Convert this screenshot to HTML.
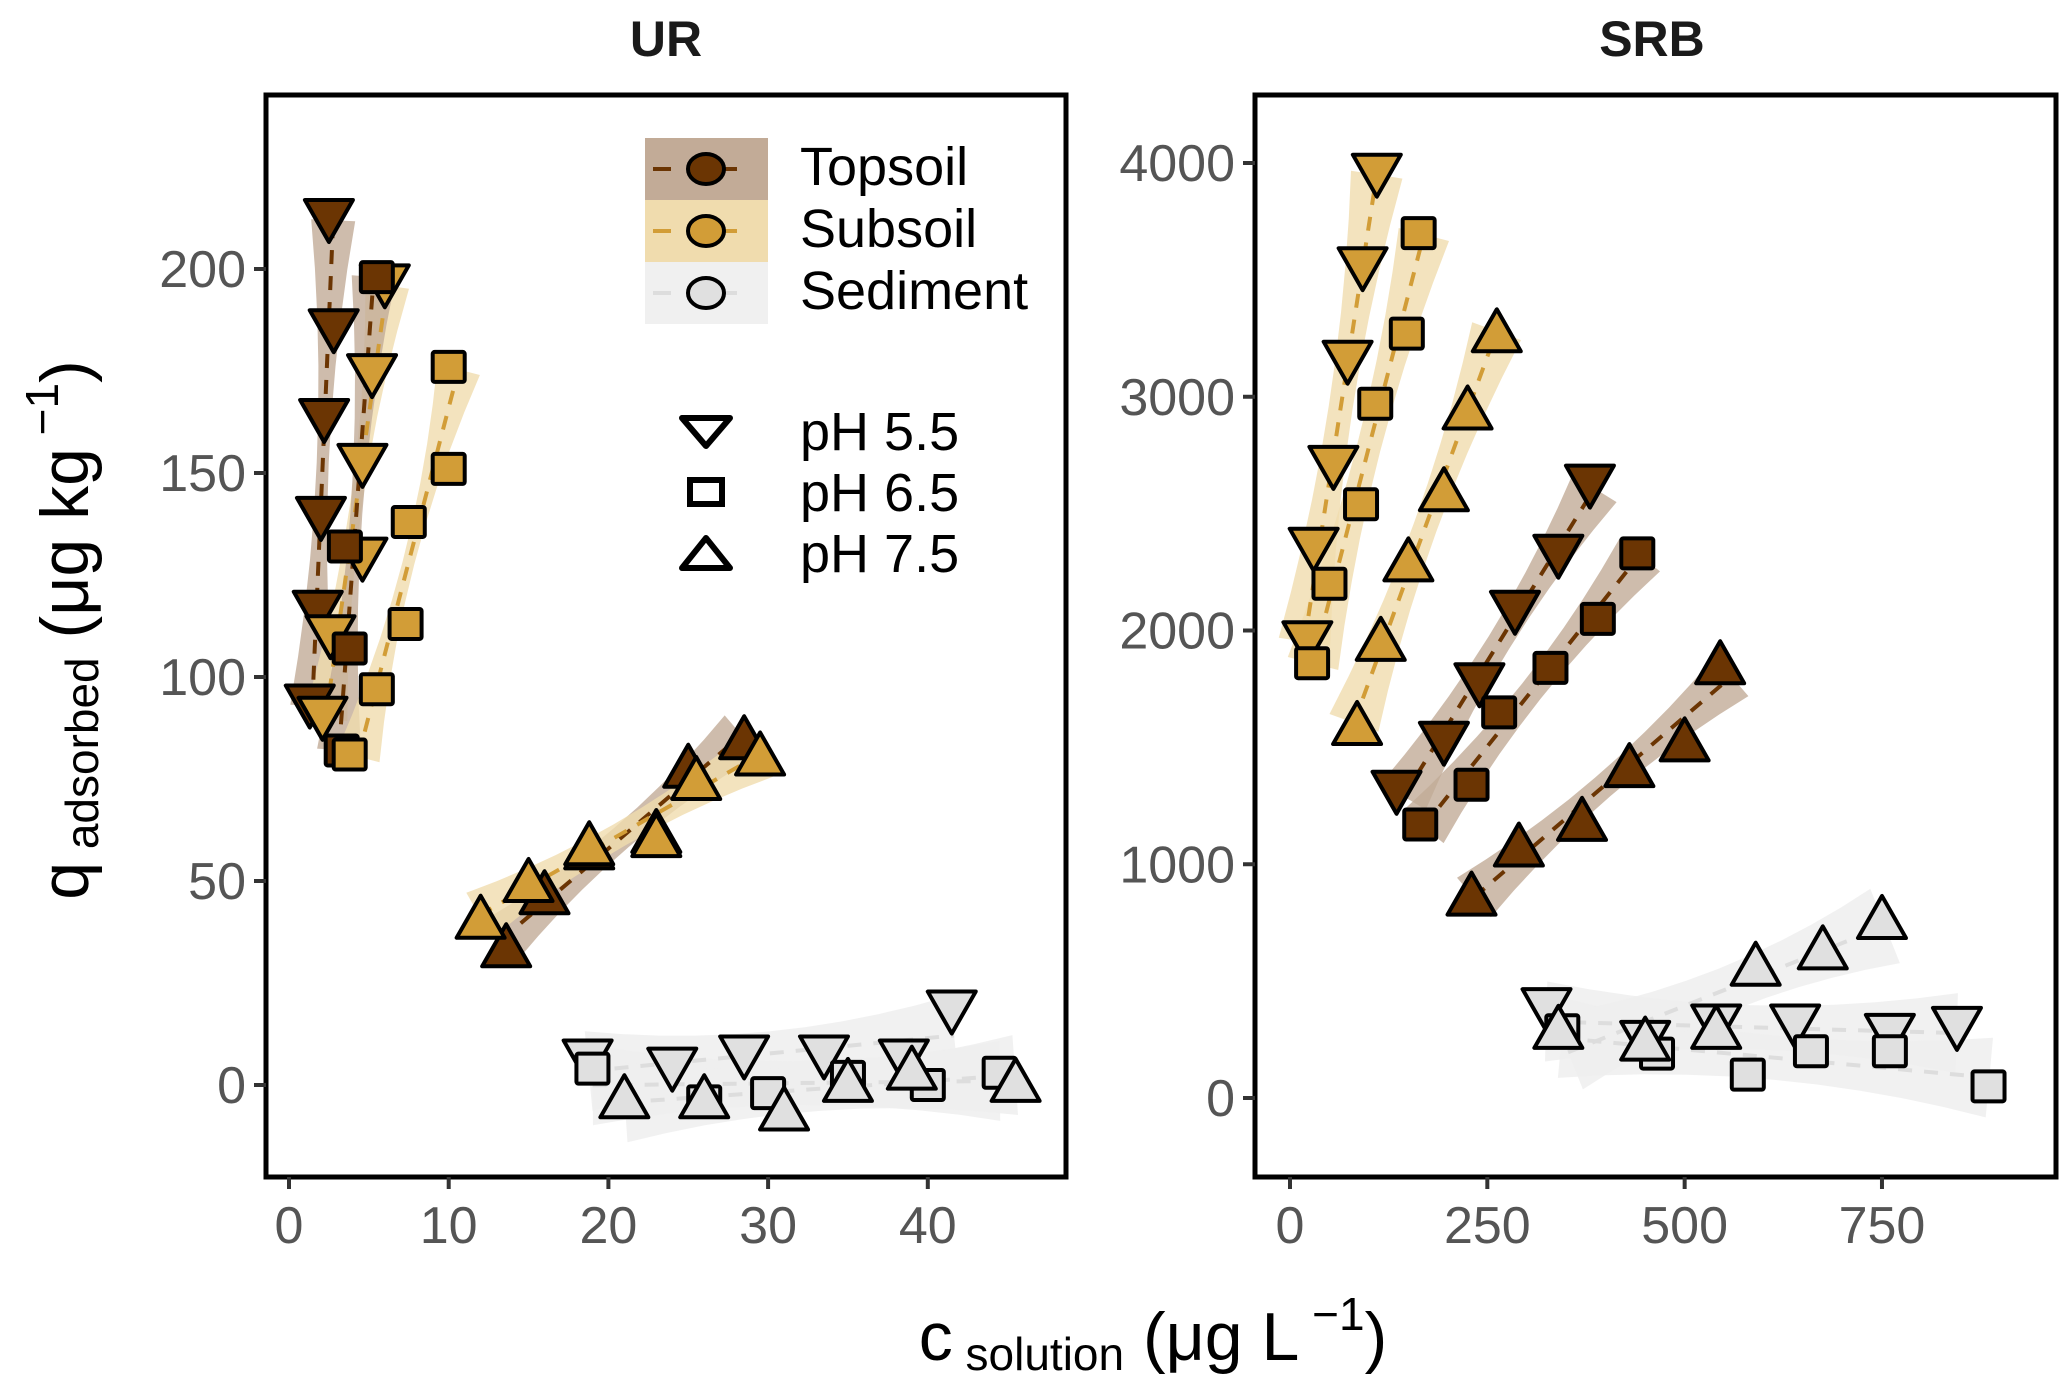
<!DOCTYPE html>
<html><head><meta charset="utf-8">
<style>
html,body{margin:0;padding:0;background:#fff;}
svg{display:block;font-family:"Liberation Sans",Arial,sans-serif;}
</style></head>
<body>
<svg id="chart" width="2067" height="1385" viewBox="0 0 2067 1385" xmlns="http://www.w3.org/2000/svg">
<g id="layer-ribbons"></g>
<g id="layer-lines"></g>
<g id="layer-points"></g>
<g id="layer-axes"></g>
</svg>
<script>
// ---- data (c solution, q adsorbed) ----
const urTickX = [0,10,20,30,40];
const urTickY = [0,50,100,150,200];
const srbTickX = [0,250,500,750];
const srbTickY = [0,1000,2000,3000,4000];

const ur_top_55_c = [2.5,2.8,2.2,2.0,1.8,1.3];
const ur_top_55_q = [212,185,163,139,116,93];
const ur_sub_55_c = [6.0,5.2,4.6,4.6,2.6,2.1];
const ur_sub_55_q = [196,174,152,129,110,90];
const ur_top_65_c = [5.5,3.5,3.8,3.3];
const ur_top_65_q = [198,132,107,82];
const ur_sub_65_c = [10.0,10.0,7.5,7.3,5.5,3.8];
const ur_sub_65_q = [176,151,138,113,97,81];
const ur_top_75_c = [13.6,16.0,18.8,25.0,28.5,23.0];
const ur_top_75_q = [34,47,58,78,85,62];
const ur_sub_75_c = [12.0,15.0,18.8,25.5,29.5,23.0];
const ur_sub_75_q = [41,50,59,75,81,61];
const ur_sed_55_c = [18.7,24.0,28.5,33.5,38.5,41.5];
const ur_sed_55_q = [6,4,7,7,6,18];
const ur_sed_65_c = [19.0,26.0,30.0,35.0,40.0,44.5];
const ur_sed_65_q = [4,-4,-2,2,0,3];
const ur_sed_75_c = [21.0,26.0,31.0,35.0,39.0,45.5];
const ur_sed_75_q = [-3,-3,-6,1,4,1];

const srb_sub_55_c = [22,30,55,73,92,110];
const srb_sub_55_q = [1950,2350,2700,3150,3550,3950];
const srb_sub_65_c = [28,50,90,108,148,163];
const srb_sub_65_q = [1860,2200,2540,2970,3270,3700];
const srb_sub_75_c = [85,115,150,195,225,262];
const srb_sub_75_q = [1600,1960,2300,2600,2950,3280];
const srb_top_55_c = [135,195,240,285,340,380];
const srb_top_55_q = [1310,1520,1770,2080,2320,2620];
const srb_top_65_c = [165,230,265,330,390,440];
const srb_top_65_q = [1170,1340,1650,1840,2050,2330];
const srb_top_75_c = [230,290,370,430,500,545];
const srb_top_75_q = [870,1080,1190,1420,1530,1860];
const srb_sed_55_c = [325,450,540,640,760,845];
const srb_sed_55_q = [380,240,310,310,270,300];
const srb_sed_65_c = [345,465,580,660,760,885];
const srb_sed_65_q = [290,190,100,200,200,50];
const srb_sed_75_c = [340,450,540,590,675,750];
const srb_sed_75_q = [300,250,300,570,640,770];

// ---- scales ----
const panels = {
  ur: {x0:266,x1:1066,y0:95,y1:1177, sx:v=>289+v*15.97, sy:v=>1085-v*4.08},
  srb:{x0:1255,x1:2056,y0:95,y1:1177, sx:v=>1290+v*0.7893, sy:v=>1098-v*0.23375}
};
const fills = {top:'#6b3503', sub:'#d29d37', sed:'#e0e0e0'};
const ribbonCol = {top:'#c2ab97', sub:'#f0dcae', sed:'#efefef'};
const lineCol = {top:'#6b3503', sub:'#d29d37', sed:'#dddddd'};
const NS='http://www.w3.org/2000/svg';
const L={rib:document.getElementById('layer-ribbons'),lin:document.getElementById('layer-lines'),pts:document.getElementById('layer-points'),ax:document.getElementById('layer-axes')};
function mk(tag,attrs,parent){const e=document.createElementNS(NS,tag);for(const k in attrs)e.setAttribute(k,attrs[k]);parent.appendChild(e);return e;}

const series = [
 ['ur','top','55',ur_top_55_c,ur_top_55_q],['ur','sub','55',ur_sub_55_c,ur_sub_55_q],
 ['ur','top','65',ur_top_65_c,ur_top_65_q],['ur','sub','65',ur_sub_65_c,ur_sub_65_q],
 ['ur','top','75',ur_top_75_c,ur_top_75_q],['ur','sub','75',ur_sub_75_c,ur_sub_75_q],
 ['ur','sed','55',ur_sed_55_c,ur_sed_55_q],['ur','sed','65',ur_sed_65_c,ur_sed_65_q],['ur','sed','75',ur_sed_75_c,ur_sed_75_q],
 ['srb','sub','55',srb_sub_55_c,srb_sub_55_q],['srb','sub','65',srb_sub_65_c,srb_sub_65_q],['srb','sub','75',srb_sub_75_c,srb_sub_75_q],
 ['srb','top','55',srb_top_55_c,srb_top_55_q],['srb','top','65',srb_top_65_c,srb_top_65_q],['srb','top','75',srb_top_75_c,srb_top_75_q],
 ['srb','sed','55',srb_sed_55_c,srb_sed_55_q],['srb','sed','65',srb_sed_65_c,srb_sed_65_q],['srb','sed','75',srb_sed_75_c,srb_sed_75_q]
];

series.forEach(s=>{
  const P=panels[s[0]];
  const px=s[3].map(P.sx), py=s[4].map(P.sy);
  const n=px.length, mx=px.reduce((a,b)=>a+b)/n, my=py.reduce((a,b)=>a+b)/n;
  let sxx=0,syy=0,sxy=0;
  for(let i=0;i<n;i++){const dx=px[i]-mx,dy=py[i]-my;sxx+=dx*dx;syy+=dy*dy;sxy+=dx*dy;}
  const th=0.5*Math.atan2(2*sxy,sxx-syy);
  const ux=Math.cos(th),uy=Math.sin(th),nx=-uy,ny=ux;
  let tmin=1e9,tmax=-1e9;
  for(let i=0;i<n;i++){const t=(px[i]-mx)*ux+(py[i]-my)*uy;tmin=Math.min(tmin,t);tmax=Math.max(tmax,t);}
  const steep = s[0]==='ur' && (s[2]==='55'||s[2]==='65') && s[1]!=='sed';
  const w0=s[1]==='sed'?22:(steep?6:12), w1=s[1]==='sed'?40:(steep?22:26);
  const pts=[];
  const steps=10;
  for(let k=0;k<=steps;k++){const t=tmin+(tmax-tmin)*k/steps;const f=Math.abs(k/steps-0.5)*2;const w=w0+(w1-w0)*f*f;pts.push([mx+ux*t+nx*w,my+uy*t+ny*w]);}
  for(let k=steps;k>=0;k--){const t=tmin+(tmax-tmin)*k/steps;const f=Math.abs(k/steps-0.5)*2;const w=w0+(w1-w0)*f*f;pts.push([mx+ux*t-nx*w,my+uy*t-ny*w]);}
  const rb=mk('polygon',{points:pts.map(p=>p.map(v=>v.toFixed(1)).join(',')).join(' '),fill:ribbonCol[s[1]],opacity:s[1]==='sed'?0.85:0.8},L.rib);
  
  
  const ln=mk('line',{x1:mx+ux*tmin,y1:my+uy*tmin,x2:mx+ux*tmax,y2:my+uy*tmax,stroke:lineCol[s[1]],'stroke-width':4,'stroke-dasharray':'14,12'},L.lin);
  
  
});

function marker(shape,x,y,fill,parent){
  if(shape==='55') return mk('polygon',{points:`${x-24},${y-20} ${x+24},${y-20} ${x},${y+22}`,fill,stroke:'#000','stroke-width':4,'stroke-linejoin':'round'},parent);
  if(shape==='75') return mk('polygon',{points:`${x-24},${y+20} ${x+24},${y+20} ${x},${y-22}`,fill,stroke:'#000','stroke-width':4,'stroke-linejoin':'round'},parent);
  return mk('rect',{x:x-16,y:y-15,width:32,height:30,fill,stroke:'#000','stroke-width':4,rx:2},parent);
}
series.forEach(s=>{
  const P=panels[s[0]];
  s[3].forEach((c,i)=>{
    const m=marker(s[2],P.sx(c),P.sy(s[4][i]),fills[s[1]],L.pts);
    
    
  });
});

function axes(key,tx,ty){
  const P=panels[key];
  const fr=mk('rect',{x:P.x0,y:P.y0,width:P.x1-P.x0,height:P.y1-P.y0,fill:'none',stroke:'#000','stroke-width':5},L.ax);
  
  
  tx.forEach(v=>{const x=P.sx(v);
    mk('line',{x1:x,y1:P.y1,x2:x,y2:P.y1+12,stroke:'#333','stroke-width':4},L.ax);
    const t=mk('text',{x:x,y:P.y1+66,'text-anchor':'middle','font-size':52,fill:'#555'},L.ax);t.textContent=v;
    
    });
  ty.forEach(v=>{const y=P.sy(v);
    mk('line',{x1:P.x0-12,y1:y,x2:P.x0,y2:y,stroke:'#333','stroke-width':4},L.ax);
    const t=mk('text',{x:P.x0-20,y:y+18,'text-anchor':'end','font-size':52,fill:'#555'},L.ax);t.textContent=v;
    
    });
}
axes('ur',urTickX,urTickY);
axes('srb',srbTickX,srbTickY);
</script>
<svg width="2067" height="1385" style="position:absolute;left:0;top:0" xmlns="http://www.w3.org/2000/svg">
<text x="666" y="56" text-anchor="middle" font-size="50" font-weight="bold" fill="#1a1a1a" font-family="Liberation Sans, sans-serif">UR</text>
<text x="1652" y="56" text-anchor="middle" font-size="50" font-weight="bold" fill="#1a1a1a" font-family="Liberation Sans, sans-serif">SRB</text>
<text transform="translate(88,630) rotate(-90)" text-anchor="middle" font-size="68" fill="#000" font-family="Liberation Sans, sans-serif">q<tspan font-size="46" dy="10"> adsorbed</tspan><tspan dy="-10"> (μg kg</tspan><tspan font-size="46" dy="-30"> −1</tspan><tspan dy="30">)</tspan></text>
<text x="1153" y="1360" text-anchor="middle" font-size="68" fill="#000" font-family="Liberation Sans, sans-serif">c<tspan font-size="46" dy="10"> solution</tspan><tspan dy="-10"> (μg L</tspan><tspan font-size="46" dy="-30"> −1</tspan><tspan dy="30">)</tspan></text>
<g font-family="Liberation Sans, sans-serif">
<rect x="645" y="138" width="123" height="62" fill="#c2ab97"/>
<rect x="645" y="200" width="123" height="62" fill="#f0dcae"/>
<rect x="645" y="262" width="123" height="62" fill="#f0f0f0"/>
<line x1="653" y1="169" x2="760" y2="169" stroke="#6b3503" stroke-width="4" stroke-dasharray="18,48"/>
<line x1="653" y1="231" x2="760" y2="231" stroke="#d29d37" stroke-width="4" stroke-dasharray="18,48"/>
<line x1="653" y1="293" x2="760" y2="293" stroke="#dddddd" stroke-width="4" stroke-dasharray="18,48"/>
<ellipse cx="706" cy="169" rx="18" ry="15" fill="#6b3503" stroke="#000" stroke-width="4"/>
<ellipse cx="706" cy="231" rx="18" ry="15" fill="#d29d37" stroke="#000" stroke-width="4"/>
<ellipse cx="706" cy="293" rx="18" ry="15" fill="#e0e0e0" stroke="#000" stroke-width="4"/>
<text x="800" y="185" font-size="54">Topsoil</text>
<text x="800" y="247" font-size="54">Subsoil</text>
<text x="800" y="309" font-size="54">Sediment</text>
<polygon points="682,418 730,418 706,446" fill="none" stroke="#000" stroke-width="6" stroke-linejoin="round"/>
<rect x="690" y="480" width="32" height="24" fill="none" stroke="#000" stroke-width="6"/>
<polygon points="682,568 730,568 706,538" fill="none" stroke="#000" stroke-width="6" stroke-linejoin="round"/>
<text x="800" y="450" font-size="54">pH 5.5</text>
<text x="800" y="511" font-size="54">pH 6.5</text>
<text x="800" y="572" font-size="54">pH 7.5</text>
</g>
</svg>
</body></html>
